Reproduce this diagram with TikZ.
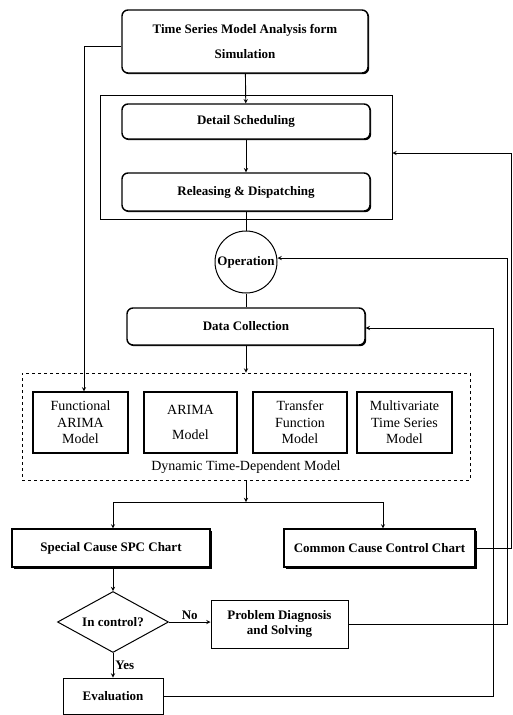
\documentclass[tikz,border=0pt]{standalone}
\usepackage{fontspec}
\setmainfont{Liberation Serif}
\usetikzlibrary{shapes.geometric,shadows}
\begin{document}
\begin{tikzpicture}[x=1pt, y=-1pt, >=stealth, line width=0.9pt,
  every node/.style={font=\fontsize{13}{15}\selectfont\bfseries, align=center, inner sep=2pt},
  roundbox/.style={draw, fill=white, line width=1.4pt, rounded corners=6pt,
    drop shadow={shadow xshift=1.2pt, shadow yshift=-1.2pt, opacity=1, fill=black}},
  chartbox/.style={draw, fill=white, line width=1.1pt,
    drop shadow={shadow xshift=1.5pt, shadow yshift=-1.5pt, opacity=1, fill=black}},
  plainbox/.style={draw, line width=1pt},
  modelbox/.style={draw, line width=1.2pt, minimum height=61pt, font=\fontsize{14}{16.5}\selectfont}]
  \useasboundingbox (0,0) rectangle (512,715);

  % planning part
  \node[roundbox, minimum width=246pt, minimum height=63pt, font=\fontsize{13}{25}\selectfont\bfseries] (sim) at (245,41.5) {Time Series Model Analysis form\\Simulation};
  \node[draw, line width=0.8pt, minimum width=292pt, minimum height=124pt] (plan) at (246,157) {};
  \node[roundbox, minimum width=248pt, minimum height=35pt] (ds) at (246,121.5) {Detail Scheduling};
  \node[roundbox, minimum width=248pt, minimum height=38pt] (rd) at (246,192) {Releasing \& Dispatching};
  \node[circle, draw, line width=1pt, minimum size=62pt, inner sep=0pt] (op) at (246,262) {Operation};
  \node[roundbox, minimum width=238pt, minimum height=37pt] (dc) at (246,326.5) {Data Collection};

  \draw[->] (sim) -- (ds);
  \draw[->] (ds) -- (rd);
  \draw (rd) -- (op);
  \draw (op) -- (dc);

  % models
  \node[draw, dashed, line width=0.8pt, minimum width=448pt, minimum height=107pt] (dtm) at (246,426.5) {};
  \node[modelbox, minimum width=95pt] (fam) at (80.5,422.5) {Functional\\ARIMA\\Model};
  \node[modelbox, minimum width=93pt] (am) at (190.5,422.5) {ARIMA\\[8pt]Model};
  \node[modelbox, minimum width=94pt] (tfm) at (300,422.5) {Transfer\\Function\\Model};
  \node[modelbox, minimum width=95pt] (mtm) at (404.5,422.5) {Multivariate\\Time Series\\Model};
  \node[font=\fontsize{14}{16}\selectfont] (dtmlabel) at (246,467) {Dynamic Time-Dependent Model};

  \draw[->] (dc) -- (dtm);
  \draw[->] ([yshift=-4.5pt]sim.west) -| ([xshift=3.5pt]fam.north);

  % control charts
  \coordinate (split) at (246,502);
  \node[chartbox, minimum width=198pt, minimum height=38pt] (spc) at (111,548) {Special Cause SPC Chart};
  \node[chartbox, minimum width=191pt, minimum height=38pt] (ccc) at (379.5,548) {Common Cause Control Chart};
  \node[diamond, draw, line width=1pt, aspect=1.8, minimum width=111pt, minimum height=61pt, inner sep=0pt] (ctrl) at (113,622) {In control?};
  \node[plainbox, minimum width=137pt, minimum height=48pt] (pd) at (279.5,624) {Problem Diagnosis\\and Solving};
  \node[plainbox, minimum width=100pt, minimum height=36pt] (eval) at (113,696) {Evaluation};

  \draw[->] (dtm) -- (split);
  \draw[->] (split) -| ([xshift=2pt]spc.north);
  \draw[->] (split) -| ([xshift=3.5pt]ccc.north);
  \draw[->] ([xshift=2pt]spc.south) -- (ctrl);
  \draw[->] (ctrl.east) -- node[above] {No} (ctrl.east -| pd.west);
  \draw[->] (ctrl) -- node[right] {Yes} (eval);

  % feedback loops
  \coordinate (fbA) at (511,153);
  \coordinate (fbB) at (507,258);
  \coordinate (fbC) at (493,328);
  \draw[->] (ccc.east) -| (fbA) -- (fbA -| plan.east);
  \draw[->] (pd.east) -| (fbB) -- (fbB -| op.east);
  \draw[->] (eval.east) -| (fbC) -- (fbC -| dc.east);
\end{tikzpicture}
\end{document}
